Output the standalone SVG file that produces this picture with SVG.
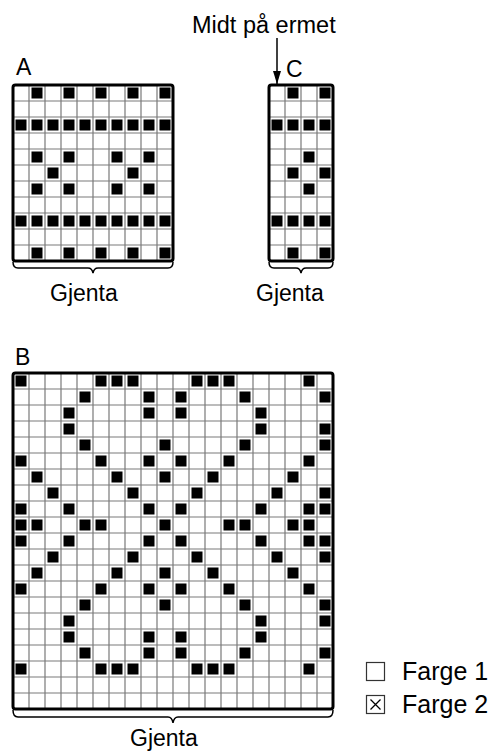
<svg xmlns="http://www.w3.org/2000/svg" width="497" height="751" viewBox="0 0 497 751">
<style>
.t{font-family:"Liberation Sans",Arial,Helvetica,sans-serif;font-size:23px;fill:#000}
.lg{font-size:25px}
.mid{font-size:23.5px}
.grid{stroke:#7a7a7a;stroke-width:1.2;fill:none}
.frame{stroke:#000;stroke-width:3;fill:none}
.brace{stroke:#000;stroke-width:1.5;fill:none}
.k{fill:#000}
</style>
<defs>
<rect id="k" class="k" width="11" height="11"/>
<marker id="ah" markerWidth="13" markerHeight="8" refX="13" refY="4" orient="auto" markerUnits="userSpaceOnUse" viewBox="0 0 13 8">
<path d="M0,0 L13,4 L0,8 Z" fill="#000"/>
</marker>
</defs>
<rect width="497" height="751" fill="#fff"/>

<g id="chartA">
<rect x="13" y="85" width="160" height="176" fill="#fff"/>
<path class="grid" d="M29,85V261M45,85V261M61,85V261M77,85V261M93,85V261M109,85V261M125,85V261M141,85V261M157,85V261M13,101H173M13,117H173M13,133H173M13,149H173M13,165H173M13,181H173M13,197H173M13,213H173M13,229H173M13,245H173"/>
<g>
<use href="#k" x="31.5" y="87.5"/><use href="#k" x="63.5" y="87.5"/><use href="#k" x="95.5" y="87.5"/><use href="#k" x="127.5" y="87.5"/><use href="#k" x="159.5" y="87.5"/>
<use href="#k" x="15.5" y="119.5"/><use href="#k" x="31.5" y="119.5"/><use href="#k" x="47.5" y="119.5"/><use href="#k" x="63.5" y="119.5"/><use href="#k" x="79.5" y="119.5"/><use href="#k" x="95.5" y="119.5"/><use href="#k" x="111.5" y="119.5"/><use href="#k" x="127.5" y="119.5"/><use href="#k" x="143.5" y="119.5"/><use href="#k" x="159.5" y="119.5"/>
<use href="#k" x="31.5" y="151.5"/><use href="#k" x="63.5" y="151.5"/><use href="#k" x="111.5" y="151.5"/><use href="#k" x="143.5" y="151.5"/>
<use href="#k" x="47.5" y="167.5"/><use href="#k" x="127.5" y="167.5"/>
<use href="#k" x="31.5" y="183.5"/><use href="#k" x="63.5" y="183.5"/><use href="#k" x="111.5" y="183.5"/><use href="#k" x="143.5" y="183.5"/>
<use href="#k" x="15.5" y="215.5"/><use href="#k" x="31.5" y="215.5"/><use href="#k" x="47.5" y="215.5"/><use href="#k" x="63.5" y="215.5"/><use href="#k" x="79.5" y="215.5"/><use href="#k" x="95.5" y="215.5"/><use href="#k" x="111.5" y="215.5"/><use href="#k" x="127.5" y="215.5"/><use href="#k" x="143.5" y="215.5"/><use href="#k" x="159.5" y="215.5"/>
<use href="#k" x="31.5" y="247.5"/><use href="#k" x="63.5" y="247.5"/><use href="#k" x="95.5" y="247.5"/><use href="#k" x="127.5" y="247.5"/><use href="#k" x="159.5" y="247.5"/>
</g>
<rect class="frame" x="13" y="85" width="160" height="176" rx="2.5"/>
<text class="t" x="16" y="75">A</text>
<path class="brace" d="M13,262q0,6 5,6H88q4,0 5,5q1,-5 5,-5H168q5,0 5,-6"/>
<text class="t" x="50" y="300.5">Gjenta</text>
</g>

<g id="chartC">
<rect x="269" y="85" width="64" height="176" fill="#fff"/>
<path class="grid" d="M285,85V261M301,85V261M317,85V261M269,101H333M269,117H333M269,133H333M269,149H333M269,165H333M269,181H333M269,197H333M269,213H333M269,229H333M269,245H333"/>
<g>
<use href="#k" x="287.5" y="87.5"/><use href="#k" x="319.5" y="87.5"/>
<use href="#k" x="271.5" y="119.5"/><use href="#k" x="287.5" y="119.5"/><use href="#k" x="303.5" y="119.5"/><use href="#k" x="319.5" y="119.5"/>
<use href="#k" x="303.5" y="151.5"/>
<use href="#k" x="287.5" y="167.5"/><use href="#k" x="319.5" y="167.5"/>
<use href="#k" x="303.5" y="183.5"/>
<use href="#k" x="271.5" y="215.5"/><use href="#k" x="287.5" y="215.5"/><use href="#k" x="303.5" y="215.5"/><use href="#k" x="319.5" y="215.5"/>
<use href="#k" x="287.5" y="247.5"/><use href="#k" x="319.5" y="247.5"/>
</g>
<rect class="frame" x="269" y="85" width="64" height="176" rx="2.5"/>
<text class="t" x="286" y="77">C</text>
<path class="brace" d="M269,262q0,6 5,6H296q4,0 5,5q1,-5 5,-5H328q5,0 5,-6"/>
<text class="t" x="256" y="300.5">Gjenta</text>
</g>

<g id="label-midt">
<text class="t mid" x="192" y="33">Midt på ermet</text>
</g>

<g id="connectors">
<line x1="277" y1="38" x2="277" y2="84" stroke="#000" stroke-width="1.5" marker-end="url(#ah)"/>
</g>

<g id="chartB">
<rect x="13" y="373" width="320" height="336" fill="#fff"/>
<path class="grid" d="M29,373V709M45,373V709M61,373V709M77,373V709M93,373V709M109,373V709M125,373V709M141,373V709M157,373V709M173,373V709M189,373V709M205,373V709M221,373V709M237,373V709M253,373V709M269,373V709M285,373V709M301,373V709M317,373V709M13,389H333M13,405H333M13,421H333M13,437H333M13,453H333M13,469H333M13,485H333M13,501H333M13,517H333M13,533H333M13,549H333M13,565H333M13,581H333M13,597H333M13,613H333M13,629H333M13,645H333M13,661H333M13,677H333M13,693H333"/>
<g>
<use href="#k" x="15.5" y="375.5"/><use href="#k" x="95.5" y="375.5"/><use href="#k" x="111.5" y="375.5"/><use href="#k" x="127.5" y="375.5"/><use href="#k" x="191.5" y="375.5"/><use href="#k" x="207.5" y="375.5"/><use href="#k" x="223.5" y="375.5"/><use href="#k" x="303.5" y="375.5"/>
<use href="#k" x="79.5" y="391.5"/><use href="#k" x="143.5" y="391.5"/><use href="#k" x="175.5" y="391.5"/><use href="#k" x="239.5" y="391.5"/><use href="#k" x="319.5" y="391.5"/>
<use href="#k" x="63.5" y="407.5"/><use href="#k" x="143.5" y="407.5"/><use href="#k" x="175.5" y="407.5"/><use href="#k" x="255.5" y="407.5"/>
<use href="#k" x="63.5" y="423.5"/><use href="#k" x="255.5" y="423.5"/><use href="#k" x="319.5" y="423.5"/>
<use href="#k" x="79.5" y="439.5"/><use href="#k" x="159.5" y="439.5"/><use href="#k" x="239.5" y="439.5"/><use href="#k" x="319.5" y="439.5"/>
<use href="#k" x="15.5" y="455.5"/><use href="#k" x="95.5" y="455.5"/><use href="#k" x="143.5" y="455.5"/><use href="#k" x="175.5" y="455.5"/><use href="#k" x="223.5" y="455.5"/><use href="#k" x="303.5" y="455.5"/>
<use href="#k" x="31.5" y="471.5"/><use href="#k" x="111.5" y="471.5"/><use href="#k" x="159.5" y="471.5"/><use href="#k" x="207.5" y="471.5"/><use href="#k" x="287.5" y="471.5"/>
<use href="#k" x="47.5" y="487.5"/><use href="#k" x="127.5" y="487.5"/><use href="#k" x="191.5" y="487.5"/><use href="#k" x="271.5" y="487.5"/><use href="#k" x="319.5" y="487.5"/>
<use href="#k" x="15.5" y="503.5"/><use href="#k" x="63.5" y="503.5"/><use href="#k" x="143.5" y="503.5"/><use href="#k" x="175.5" y="503.5"/><use href="#k" x="255.5" y="503.5"/><use href="#k" x="303.5" y="503.5"/><use href="#k" x="319.5" y="503.5"/>
<use href="#k" x="15.5" y="519.5"/><use href="#k" x="31.5" y="519.5"/><use href="#k" x="79.5" y="519.5"/><use href="#k" x="95.5" y="519.5"/><use href="#k" x="159.5" y="519.5"/><use href="#k" x="223.5" y="519.5"/><use href="#k" x="239.5" y="519.5"/><use href="#k" x="287.5" y="519.5"/><use href="#k" x="303.5" y="519.5"/>
<use href="#k" x="15.5" y="535.5"/><use href="#k" x="63.5" y="535.5"/><use href="#k" x="143.5" y="535.5"/><use href="#k" x="175.5" y="535.5"/><use href="#k" x="255.5" y="535.5"/><use href="#k" x="303.5" y="535.5"/><use href="#k" x="319.5" y="535.5"/>
<use href="#k" x="47.5" y="551.5"/><use href="#k" x="127.5" y="551.5"/><use href="#k" x="191.5" y="551.5"/><use href="#k" x="271.5" y="551.5"/><use href="#k" x="319.5" y="551.5"/>
<use href="#k" x="31.5" y="567.5"/><use href="#k" x="111.5" y="567.5"/><use href="#k" x="159.5" y="567.5"/><use href="#k" x="207.5" y="567.5"/><use href="#k" x="287.5" y="567.5"/>
<use href="#k" x="15.5" y="583.5"/><use href="#k" x="95.5" y="583.5"/><use href="#k" x="143.5" y="583.5"/><use href="#k" x="175.5" y="583.5"/><use href="#k" x="223.5" y="583.5"/><use href="#k" x="303.5" y="583.5"/>
<use href="#k" x="79.5" y="599.5"/><use href="#k" x="159.5" y="599.5"/><use href="#k" x="239.5" y="599.5"/><use href="#k" x="319.5" y="599.5"/>
<use href="#k" x="63.5" y="615.5"/><use href="#k" x="255.5" y="615.5"/><use href="#k" x="319.5" y="615.5"/>
<use href="#k" x="63.5" y="631.5"/><use href="#k" x="143.5" y="631.5"/><use href="#k" x="175.5" y="631.5"/><use href="#k" x="255.5" y="631.5"/>
<use href="#k" x="79.5" y="647.5"/><use href="#k" x="143.5" y="647.5"/><use href="#k" x="175.5" y="647.5"/><use href="#k" x="239.5" y="647.5"/><use href="#k" x="319.5" y="647.5"/>
<use href="#k" x="15.5" y="663.5"/><use href="#k" x="95.5" y="663.5"/><use href="#k" x="111.5" y="663.5"/><use href="#k" x="127.5" y="663.5"/><use href="#k" x="191.5" y="663.5"/><use href="#k" x="207.5" y="663.5"/><use href="#k" x="223.5" y="663.5"/><use href="#k" x="303.5" y="663.5"/>
</g>
<rect class="frame" x="13" y="373" width="320" height="336" rx="2.5"/>
<text class="t" x="15" y="365">B</text>
<path class="brace" d="M13,710q0,7 5,7H168q4,0 5,6q1,-6 5,-6H328q5,0 5,-7"/>
<text class="t" x="130" y="745.5">Gjenta</text>
</g>

<g id="legend">
<rect x="366.5" y="662.5" width="18" height="18" fill="#fff" stroke="#333" stroke-width="1.2"/>
<text class="t lg" x="402" y="680">Farge 1</text>
<rect x="366.5" y="695.5" width="18" height="18" fill="#fff" stroke="#333" stroke-width="1.2"/>
<path d="M370.5,699.5L380.5,709.5M380.5,699.5L370.5,709.5" stroke="#000" stroke-width="1.3"/>
<text class="t lg" x="402" y="713">Farge 2</text>
</g>
</svg>
